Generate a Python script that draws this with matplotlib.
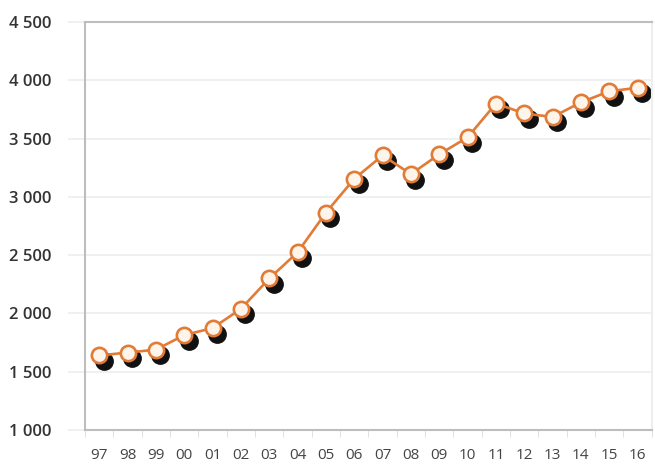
import numpy as np
import matplotlib.pyplot as plt
import matplotlib.transforms as mtransforms

plt.rcParams['font.family'] = ['Open Sans', 'DejaVu Sans']

# 年份标签与数值
years = ['97', '98', '99', '00', '01', '02', '03', '04', '05', '06',
         '07', '08', '09', '10', '11', '12', '13', '14', '15', '16']
values = [1640, 1665, 1690, 1815, 1875, 2040, 2300, 2525, 2865, 3155,
          3355, 3195, 3365, 3510, 3800, 3715, 3685, 3810, 3905, 3935]
y_ticks = [1000, 1500, 2000, 2500, 3000, 3500, 4000, 4500]

orange = '#E27B36'
grid_c = '#EEEEEE'
spine_c = '#BDBDBD'

fig = plt.figure(figsize=(6.55, 4.66), dpi=100)
ax = fig.add_axes([0.130, 0.077, 0.865, 0.876])

x = np.arange(len(years))

# 阴影点: 向右下偏移
shadow = mtransforms.offset_copy(ax.transData, fig=fig, x=4.5, y=-5.5, units='dots')
ax.plot(x, values, 'o', ms=12.5, color='#111111', mec='#111111', transform=shadow, zorder=2)

ax.plot(x, values, '-', color=orange, lw=1.9, zorder=3)
ax.plot(x, values, 'o', ms=11, mfc='#FFF4EA', mec=orange, mew=1.9, zorder=4)

ax.set_xlim(-0.5, len(years) - 0.5)
ax.set_ylim(1000, 4500)
ax.set_yticks(y_ticks)
ax.set_yticklabels([f'{v:,}'.replace(',', ' ') for v in y_ticks])
ax.set_xticks(x)
ax.set_xticklabels(years)
ax.set_xticks(np.arange(-0.5, len(years), 1), minor=True)

ax.grid(axis='y', color=grid_c, lw=1.2, zorder=0)
ax.tick_params(axis='x', which='major', length=0, pad=13, labelsize=11, labelcolor='#444444')
ax.tick_params(axis='x', which='minor', length=5, color='#DDDDDD', direction='out')
ax.tick_params(axis='y', length=12, color=grid_c, width=1.2, pad=12, labelsize=12,
               labelcolor='#333333')
for lab in ax.get_yticklabels():
    lab.set_fontweight('semibold')

for s in ax.spines.values():
    s.set_color(spine_c)
    s.set_linewidth(1.5)
ax.spines['right'].set_color('#EEEEEE')

plt.savefig('out.png')
